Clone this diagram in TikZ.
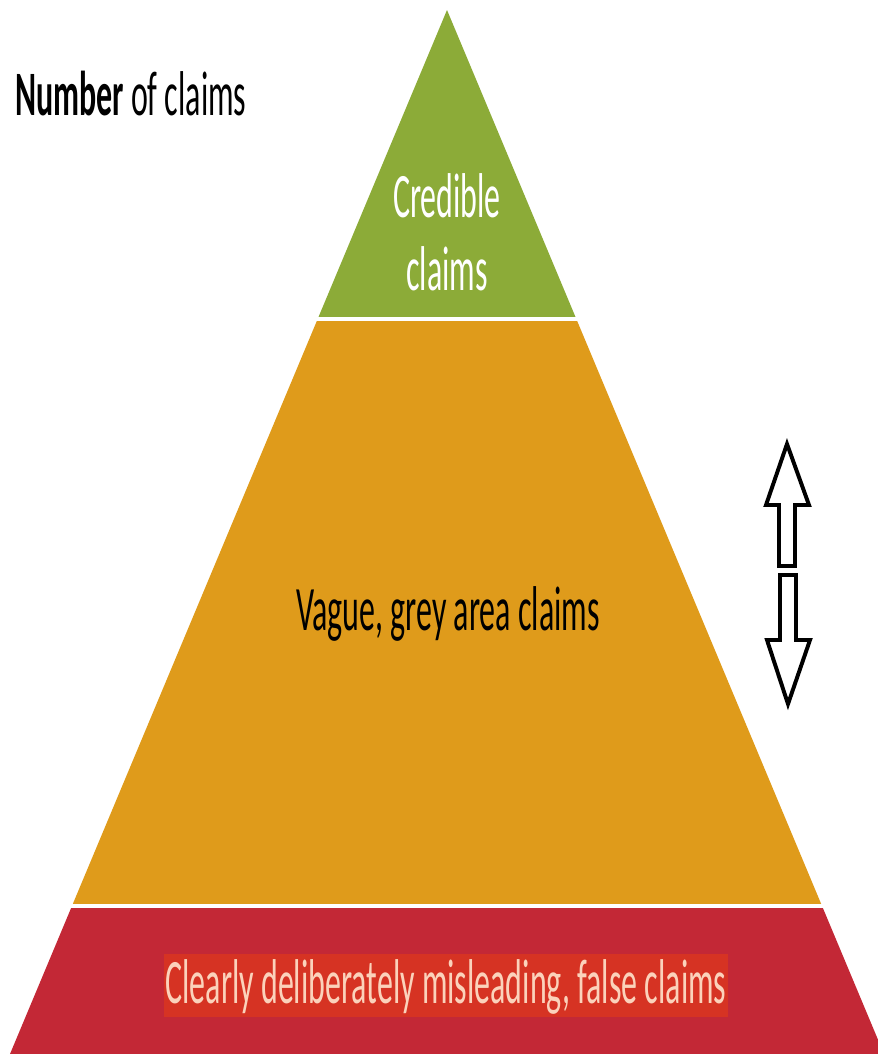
\documentclass[tikz,border=0pt]{standalone}
\usepackage{fontspec}
\setmainfont{Carlito}
\usepackage{tikz}
\definecolor{credgreen}{HTML}{8CAB38}
\definecolor{greyorange}{HTML}{DF9B1B}
\definecolor{falsered}{HTML}{C32836}
\definecolor{hilite}{HTML}{D63323}
\definecolor{peach}{HTML}{FBD2BB}
\tikzset{
  every picture/.style={line join=miter},
  lab/.style={font=\fontsize{45}{51.8}\selectfont, xscale=0.505, inner sep=0pt, align=center},
  hollow/.style={draw=black, fill=white, line width=2.8pt}
}

\begin{document}
\begin{tikzpicture}[x=0.025cm, y=-0.025cm]
  \useasboundingbox (0,0) rectangle (878,1054);
  \coordinate (apex) at (447,10);
  \coordinate (baseL) at (10,1054);
  \coordinate (baseR) at (884,1054);

  % three layers of one triangle, split by white bands
  \begin{scope}
    \clip (0,0) rectangle (878,316);
    \fill[credgreen] (apex) -- (baseL) -- (baseR) -- cycle;
  \end{scope}
  \begin{scope}
    \clip (0,321) rectangle (878,903);
    \fill[greyorange] (apex) -- (baseL) -- (baseR) -- cycle;
  \end{scope}
  \begin{scope}
    \clip (0,908) rectangle (878,1054);
    \fill[falsered] (apex) -- (baseL) -- (baseR) -- cycle;
  \end{scope}

  \node[lab, anchor=base west] (count) at (15,115) {\textbf{Number} of claims};
  \node[lab, text=white] (credible) at (447,232) {Credible\\claims};
  \node[lab, anchor=base] (vague) at (448,630) {Vague, grey area claims};
  \node[lab, anchor=base, text=peach, fill=hilite, text height=35pt, text depth=10pt, inner xsep=2.8pt] (misleading) at (446,1003) {Clearly deliberately misleading, false claims};

  % up and down block arrows
  \draw[hollow] (787,444) -- (809,505) -- (795,505) -- (795,566) -- (779,566) -- (779,505) -- (766,505) -- cycle;
  \draw[hollow] (780,575) -- (796,575) -- (796,640) -- (810,640) -- (788,704) -- (767,640) -- (780,640) -- cycle;
\end{tikzpicture}
\end{document}
